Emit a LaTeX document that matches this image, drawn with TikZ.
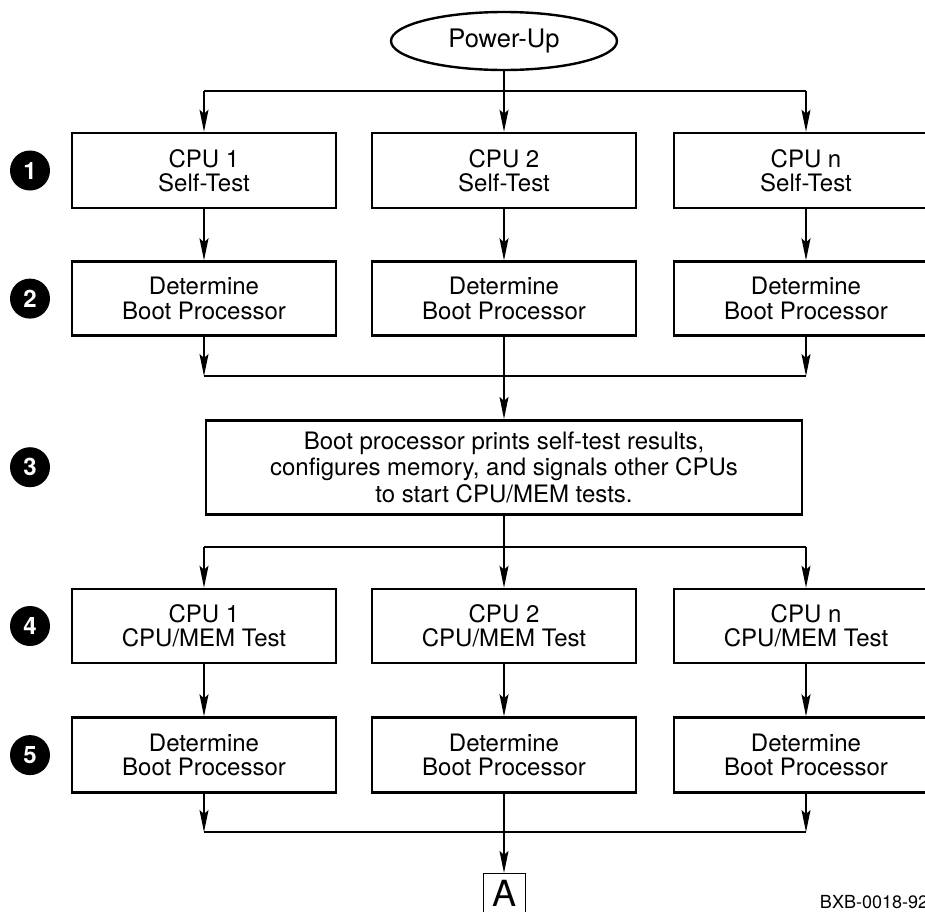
\documentclass[tikz,border=0pt]{standalone}
\usepackage{fontspec}
\setmainfont{TeX Gyre Heros}
\usetikzlibrary{arrows.meta, positioning, shapes.geometric}

\begin{document}
\begin{tikzpicture}[
    x=1pt, y=-1pt, line width=1.3pt,
    >={Stealth[length=22pt, width=9pt, inset=4pt]},
    stepbox/.style={draw, line width=2.6pt, minimum width=264pt,
      minimum height=75pt, inner sep=0pt, align=center,
      font=\fontsize{24}{24.5}\selectfont},
    stepnum/.style={circle, fill=black, text=white, minimum size=40pt,
      inner sep=0pt, font=\fontsize{24}{24}\selectfont\bfseries}
  ]
  \useasboundingbox (0,0) rectangle (925,911);
  \clip (0,0) rectangle (925,911);

  \node[draw, ellipse, line width=2.4pt, minimum width=226pt,
        minimum height=58pt, inner sep=0pt,
        font=\fontsize{25.5}{25.5}\selectfont] (pwr) at (504,41) {Power-Up};

  % self-test row
  \node[stepbox] (st1) at (204,170.5) {CPU 1\\Self-Test};
  \node[stepbox] (st2) at (504,170.5) {CPU 2\\Self-Test};
  \node[stepbox] (stn) at (806,170.5) {CPU n\\Self-Test};

  \node[stepbox, minimum height=74pt, below=51pt of st1] (bp1)
    {Determine\\Boot Processor};
  \node[stepbox, minimum height=74pt, below=51pt of st2] (bp2)
    {Determine\\Boot Processor};
  \node[stepbox, minimum height=74pt, below=51pt of stn] (bpn)
    {Determine\\Boot Processor};

  \node[stepbox, minimum width=596pt, minimum height=94pt,
        font=\fontsize{24}{26.5}\selectfont, below=82pt of bp2] (boot)
    {Boot processor prints self-test results,\\
     configures memory, and signals other CPUs\\
     to start CPU/MEM tests.};

  % CPU/MEM row
  \node[stepbox, minimum height=74pt] (mt1) at (204,626) {CPU 1\\CPU/MEM Test};
  \node[stepbox, minimum height=74pt] (mt2) at (504,626) {CPU 2\\CPU/MEM Test};
  \node[stepbox, minimum height=74pt] (mtn) at (806,626) {CPU n\\CPU/MEM Test};

  \node[stepbox, below=52pt of mt1] (bq1) {Determine\\Boot Processor};
  \node[stepbox, below=52pt of mt2] (bq2) {Determine\\Boot Processor};
  \node[stepbox, below=52pt of mtn] (bqn) {Determine\\Boot Processor};

  \node[draw, line width=1pt, minimum width=42pt, minimum height=40pt,
        inner sep=0pt, font=\fontsize{36}{36}\selectfont,
        below=79pt of bq2] (conn) {A};

  \node[anchor=base west, font=\fontsize{18}{18}\selectfont] (code)
    at (816,908) {BXB-0018-92};

  % step numbers
  \node[stepnum] (n1) at (st1 -| 30,0) {1};
  \node[stepnum] (n2) at (bp1 -| 30,0) {2};
  \node[stepnum] (n3) at (boot -| 30,0) {3};
  \node[stepnum] (n4) at (mt1 -| 30,0) {4};
  \node[stepnum] (n5) at (bq1 -| 30,0) {5};

  % connectors
  \coordinate (sp1) at (504,91);
  \coordinate (mg1) at (504,376);
  \coordinate (sp2) at (504,547);
  \coordinate (mg2) at (504,832);

  \draw[->] (pwr) -- (st2);
  \draw (sp1 -| st1) -- (sp1 -| stn);
  \draw[->] (sp1 -| st1) -- (st1);
  \draw[->] (sp1 -| stn) -- (stn);

  \draw[->] (st1) -- (bp1);
  \draw[->] (st2) -- (bp2);
  \draw[->] (stn) -- (bpn);

  \draw[->] (bp1) -- (mg1 -| bp1);
  \draw[->] (bpn) -- (mg1 -| bpn);
  \draw (mg1 -| bp1) -- (mg1 -| bpn);
  \draw[->] (bp2) -- (boot);

  \draw[->] (boot) -- (mt2);
  \draw (sp2 -| mt1) -- (sp2 -| mtn);
  \draw[->] (sp2 -| mt1) -- (mt1);
  \draw[->] (sp2 -| mtn) -- (mtn);

  \draw[->] (mt1) -- (bq1);
  \draw[->] (mt2) -- (bq2);
  \draw[->] (mtn) -- (bqn);

  \draw[->] (bq1) -- (mg2 -| bq1);
  \draw[->] (bqn) -- (mg2 -| bqn);
  \draw (mg2 -| bq1) -- (mg2 -| bqn);
  \draw[->] (bq2) -- (conn);
\end{tikzpicture}
\end{document}
